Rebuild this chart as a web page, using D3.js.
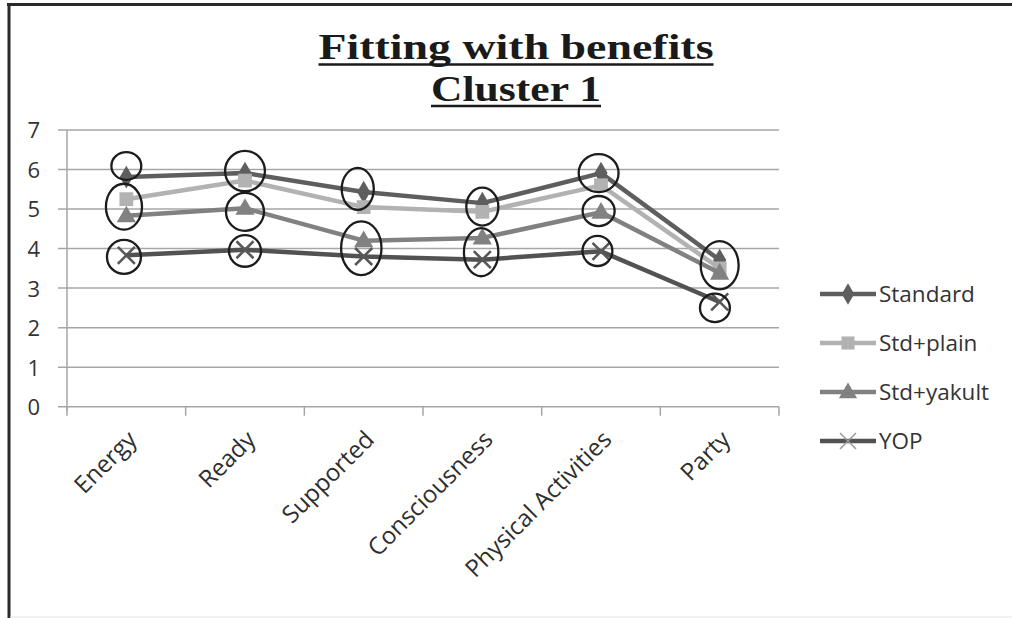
<!DOCTYPE html>
<html>
<head>
<meta charset="utf-8">
<script src="https://cdn.jsdelivr.net/npm/d3@7"></script>
<style>
  html, body { margin: 0; padding: 0; background: #fff; }
  svg { display: block; }
</style>
</head>
<body>
<svg id="chart" width="1012" height="618"></svg>
<script>
// ---- data ----
const categories = ["Energy", "Ready", "Supported", "Consciousness", "Physical Activities", "Party"];
const seriesNames = ["Standard", "Std+plain", "Std+yakult", "YOP"];
const standard  = [5.81, 5.91, 5.43, 5.15, 5.91, 3.71];
const stdPlain  = [5.25, 5.72, 5.05, 4.93, 5.60, 3.50];
const stdYakult = [4.83, 5.02, 4.20, 4.27, 4.92, 3.38];
const yop       = [3.83, 3.97, 3.80, 3.72, 3.93, 2.65];
const yTicks = [0, 1, 2, 3, 4, 5, 6, 7];
const titleLines = ["Fitting with benefits", "Cluster 1"];
// highlighted (circled) regions: category, low value, high value, half-width as share of band, offset as share of band
const highlights = [
  ["Energy", 5.74, 6.44, 0.126, 0.0],
  ["Energy", 4.48, 5.64, 0.152, -0.02],
  ["Energy", 3.36, 4.22, 0.143, -0.02],
  ["Ready", 5.45, 6.47, 0.168, 0.0],
  ["Ready", 4.45, 5.41, 0.160, 0.0],
  ["Ready", 3.54, 4.34, 0.135, 0.0],
  ["Supported", 4.98, 6.04, 0.135, -0.05],
  ["Supported", 3.33, 4.69, 0.170, -0.02],
  ["Consciousness", 4.58, 5.54, 0.135, 0.0],
  ["Consciousness", 3.30, 4.52, 0.145, -0.01],
  ["Physical Activities", 5.43, 6.39, 0.168, -0.02],
  ["Physical Activities", 4.57, 5.33, 0.135, -0.02],
  ["Physical Activities", 3.56, 4.32, 0.126, -0.03],
  ["Party", 2.97, 4.19, 0.160, 0.0],
  ["Party", 2.14, 2.86, 0.126, -0.04]
];

const seriesValues = [standard, stdPlain, stdYakult, yop];
const seriesColors = ["#5e5e5e", "#b2b2b2", "#818181", "#525252"];
const markerKinds = ["diamond", "square", "triangle", "cross"];

// ---- layout ----
const svg = d3.select("#chart");
const plot = { left: 67, right: 779, top: 130, bottom: 406.7 };
const x = d3.scaleBand().domain(categories).range([plot.left, plot.right]).paddingInner(0).paddingOuter(0);
const y = d3.scaleLinear().domain([0, 7]).range([plot.bottom, plot.top]);
const cx = c => x(c) + x.bandwidth() / 2;

const sansFont = "'Open Sans', 'DejaVu Sans', sans-serif";

// frame
svg.append("line").attr("x1", 7).attr("x2", 1012).attr("y1", 4.5).attr("y2", 4.5)
  .attr("stroke", "#2a2a2a").attr("stroke-width", 3);
svg.append("line").attr("x1", 9).attr("x2", 9).attr("y1", 3).attr("y2", 618)
  .attr("stroke", "#2a2a2a").attr("stroke-width", 3);
svg.append("line").attr("x1", 10).attr("x2", 1012).attr("y1", 617).attr("y2", 617)
  .attr("stroke", "#e6e6e6").attr("stroke-width", 1);

// title
const titleBase = [59, 100.5];
const titleWidths = [395, 170];
titleLines.forEach((t, i) => {
  svg.append("text")
    .attr("x", 516).attr("y", titleBase[i])
    .attr("text-anchor", "middle")
    .attr("font-family", "'Liberation Serif', 'DejaVu Serif', serif")
    .attr("font-weight", "bold")
    .attr("font-size", 36.5)
    .attr("fill", "#1a1a1a")
    .attr("textLength", titleWidths[i])
    .attr("lengthAdjust", "spacingAndGlyphs")
    .text(t);
  svg.append("line")
    .attr("x1", 516 - titleWidths[i] / 2).attr("x2", 516 + titleWidths[i] / 2)
    .attr("y1", titleBase[i] + 5.5).attr("y2", titleBase[i] + 5.5)
    .attr("stroke", "#1a1a1a").attr("stroke-width", 2.5);
});

// gridlines
const gridG = svg.append("g");
gridG.selectAll("line").data(yTicks).join("line")
  .attr("x1", plot.left - 9).attr("x2", plot.right)
  .attr("y1", d => y(d)).attr("y2", d => y(d))
  .attr("stroke", "#a6a6a6").attr("stroke-width", 1.5);

// y axis line
svg.append("line").attr("x1", plot.left).attr("x2", plot.left)
  .attr("y1", plot.top).attr("y2", plot.bottom + 4)
  .attr("stroke", "#a6a6a6").attr("stroke-width", 1.5);

// y tick labels
const yAxis = d3.axisLeft(y).tickValues(yTicks).tickSize(0).tickPadding(0).tickFormat(d3.format("d"));
const yg = svg.append("g").attr("transform", `translate(${plot.left - 27},0)`).call(yAxis);
yg.select(".domain").remove();
yg.selectAll("text")
  .attr("font-family", sansFont).attr("font-size", 22).attr("fill", "#333")
  .attr("dy", "0.36em");

// x axis ticks (band boundaries)
const boundaries = categories.map(c => x(c)).concat([plot.right]);
svg.append("g").selectAll("line").data(boundaries).join("line")
  .attr("x1", d => d).attr("x2", d => d)
  .attr("y1", plot.bottom).attr("y2", plot.bottom + 9)
  .attr("stroke", "#a6a6a6").attr("stroke-width", 1.5);

// x labels
svg.append("g").selectAll("text").data(categories).join("text")
  .attr("transform", d => `translate(${cx(d) + 12},${441}) rotate(-45)`)
  .attr("text-anchor", "end")
  .attr("font-family", sansFont).attr("font-size", 24).attr("fill", "#2e2e2e")
  .text(d => d);

// markers
function drawMarker(g, kind, color, px, py, legendMode) {
  if (kind === "cross") {
    const r = legendMode ? 8 : 8.5;
    g.append("path")
      .attr("d", `M${px - r},${py - r}L${px + r},${py + r}M${px - r},${py + r}L${px + r},${py - r}`)
      .attr("stroke", legendMode ? "#9a9a9a" : "#585858")
      .attr("stroke-width", legendMode ? 1.5 : 2.6).attr("fill", "none");
    return;
  }
  const sym = kind === "diamond" ? d3.symbolDiamond : kind === "square" ? d3.symbolSquare : d3.symbolTriangle;
  const size = kind === "diamond" ? 150 : kind === "square" ? 190 : 160;
  g.append("path")
    .attr("d", d3.symbol().type(sym).size(legendMode ? size * 0.9 : size)())
    .attr("transform", `translate(${px},${py + (kind === "triangle" ? 1 : 0)})`)
    .attr("fill", color);
}

const line = d3.line().x((d, i) => cx(categories[i])).y(d => y(d));
const seriesG = svg.append("g");
seriesValues.forEach((vals, si) => {
  const g = seriesG.append("g");
  g.append("path").attr("d", line(vals))
    .attr("fill", "none").attr("stroke", seriesColors[si]).attr("stroke-width", 4.5)
    .attr("stroke-linejoin", "round");
  vals.forEach((v, i) => drawMarker(g, markerKinds[si], seriesColors[si], cx(categories[i]), y(v), false));
});

// highlight ellipses
svg.append("g").selectAll("ellipse").data(highlights).join("ellipse")
  .attr("cx", d => cx(d[0]) + d[4] * x.bandwidth())
  .attr("cy", d => (y(d[1]) + y(d[2])) / 2)
  .attr("rx", d => d[3] * x.bandwidth())
  .attr("ry", d => Math.abs(y(d[1]) - y(d[2])) / 2)
  .attr("fill", "none").attr("stroke", "#1c1c1c").attr("stroke-width", 2.3);

// legend
const legend = svg.append("g");
seriesNames.forEach((name, i) => {
  const ly = 294 + i * 49;
  const g = legend.append("g");
  g.append("line").attr("x1", 820).attr("x2", 876).attr("y1", ly).attr("y2", ly)
    .attr("stroke", seriesColors[i]).attr("stroke-width", 4.5);
  drawMarker(g, markerKinds[i], seriesColors[i], 848, ly, true);
  g.append("text").attr("x", 879).attr("y", ly).attr("dy", "0.36em")
    .attr("font-family", sansFont).attr("font-size", 22.5).attr("fill", "#333")
    .text(name);
});
</script>
</body>
</html>
